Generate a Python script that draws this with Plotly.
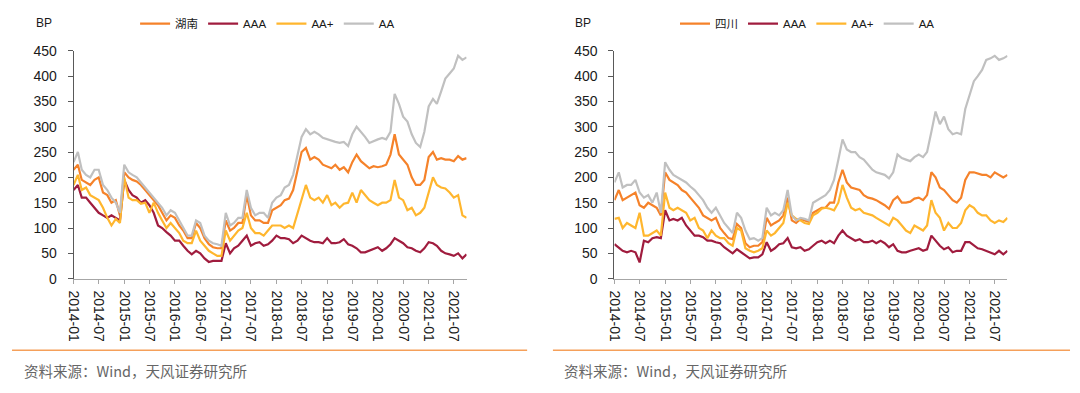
import pandas as pd
import plotly.graph_objects as go

dates = pd.date_range("2014-01-01", "2021-10-01", freq="MS")

hunan = [215,225,195,190,185,195,200,170,165,150,155,125,
         210,200,195,192,185,175,165,155,145,130,115,125,
         120,105,95,80,80,110,100,80,68,62,60,60,
         115,95,100,110,110,165,125,115,115,110,110,135,
         140,145,155,158,175,215,250,258,235,240,235,225,
         222,218,225,215,220,210,230,245,232,225,218,222,
         220,222,225,245,285,245,235,225,200,185,185,195,
         240,250,235,238,235,235,232,242,235,238]
hn_aaa = [175,185,160,160,150,140,130,125,120,125,120,115,
          195,175,165,160,150,155,145,130,105,100,92,85,
          75,75,65,55,48,55,50,40,33,35,35,35,
          70,50,60,65,75,85,65,70,72,65,68,75,
          85,80,80,78,70,75,85,80,75,72,72,70,
          80,70,70,72,78,68,65,60,52,52,55,58,
          62,55,60,68,80,75,70,62,60,55,52,60,
          72,70,65,55,50,48,45,50,40,48]
hn_aap = [185,205,175,180,165,160,155,140,120,105,118,110,
          200,160,155,155,148,150,130,150,130,115,100,110,
          100,90,75,70,70,95,75,65,55,50,45,45,
          95,75,85,95,100,130,100,90,90,85,95,105,
          105,105,100,105,100,130,155,185,160,155,160,150,
          165,145,150,140,148,150,170,150,175,165,155,150,
          145,150,150,155,195,160,155,135,140,125,130,140,
          170,200,185,180,178,170,160,165,125,120]
hn_aa = [230,250,215,205,200,215,215,185,175,160,150,130,
         225,210,205,200,190,180,170,160,150,140,125,135,
         130,115,100,85,85,115,110,85,75,70,68,65,
         130,105,110,120,120,175,140,125,130,130,120,150,
         160,165,180,185,205,245,280,295,285,290,285,278,
         275,272,270,268,270,262,285,300,290,280,268,272,
         275,278,275,290,365,345,320,310,285,268,260,290,
         340,355,345,370,395,405,415,440,432,437]

sichuan = [155,175,155,160,165,170,145,140,150,145,140,125,
           210,195,190,185,175,170,160,150,140,125,120,115,
           120,100,90,80,78,108,100,70,62,65,65,72,
           120,105,110,115,125,160,115,110,118,115,112,130,
           135,140,140,150,150,190,215,190,180,178,175,165,
           160,158,155,150,145,138,155,162,150,150,152,158,
           160,155,165,210,200,180,175,165,155,150,160,195,
           210,210,208,205,205,200,210,205,200,205]
sc_aaa = [68,62,55,52,55,52,32,75,72,80,82,80,
          135,115,118,115,120,105,95,85,85,82,75,75,
          72,70,62,55,50,58,52,45,40,42,42,48,
          72,55,60,68,70,80,62,60,62,55,58,65,
          72,75,70,75,70,85,95,85,80,75,78,72,
          72,75,70,75,70,62,68,55,52,52,55,58,
          60,55,58,85,75,65,58,62,52,55,55,72,
          72,65,60,58,55,52,48,55,48,55]
sc_aap = [118,120,100,110,105,100,130,85,85,90,95,85,
          170,140,135,140,135,130,115,120,100,95,80,95,
          85,80,80,70,65,100,95,60,55,52,55,60,
          95,85,90,100,110,150,125,118,115,110,108,125,
          130,138,140,138,135,150,185,160,140,135,138,130,
          128,125,120,115,110,105,120,115,105,95,90,105,
          100,95,105,155,130,120,95,110,100,100,110,135,
          145,140,130,125,125,115,110,115,112,120]
sc_aa = [190,210,180,185,185,195,170,160,165,150,170,130,
         230,215,205,200,195,190,182,175,165,155,140,130,
         140,125,110,100,90,130,120,95,78,80,75,80,
         140,125,130,125,135,175,125,115,120,118,115,150,
         155,160,165,175,195,235,275,255,250,250,240,235,
         225,215,210,207,205,198,210,245,238,235,232,240,
         245,240,250,290,330,305,320,295,285,288,285,335,
         365,390,400,412,432,435,440,432,435,440]

names_left = ["湖南", "AAA", "AA+", "AA"]
names_right = ["四川", "AAA", "AA+", "AA"]
colors = ["#F5822A", "#A01C3E", "#FFB62E", "#C0C0C0"]
source_text = "资料来源：Wind，天风证券研究所"

FONT = "Liberation Sans, Arial, Noto Sans CJK SC, sans-serif"
CJK = "Noto Sans CJK SC, sans-serif"

fig = go.Figure()
left_series = [hunan, hn_aaa, hn_aap, hn_aa]
right_series = [sichuan, sc_aaa, sc_aap, sc_aa]
for name, ys, c in zip(names_left, left_series, colors):
    fig.add_trace(go.Scatter(x=dates, y=ys, name=name, mode="lines",
                             line=dict(color=c, width=2.2), xaxis="x", yaxis="y",
                             legend="legend"))
for name, ys, c in zip(names_right, right_series, colors):
    fig.add_trace(go.Scatter(x=dates, y=ys, name=name, mode="lines",
                             line=dict(color=c, width=2.2), xaxis="x2", yaxis="y2",
                             legend="legend2"))

# page body has an 8px margin; figure is sized so the page fits the window
OFF = 8
W, H = 1080 - 2 * OFF, 393 - 2 * OFF
def px(x):
    return (x - OFF) / W
def py(y):
    return 1 - (y - OFF) / H

xcommon = dict(type="date", range=["2014-01-01", "2021-10-01"], dtick="M6",
               tick0="2014-01-01", tickformat="%Y-%m", tickangle=90,
               showgrid=False, zeroline=False, showline=True, linecolor="#A6A6A6",
               linewidth=1, ticks="outside", ticklen=4, tickcolor="#A6A6A6",
               ticklabelstandoff=4,
               tickfont=dict(size=14, color="#1A1A1A", family=FONT))
ycommon = dict(range=[0, 450], dtick=50, showgrid=False, zeroline=False,
               showline=True, linecolor="#595959", linewidth=1, ticks="outside",
               ticklen=5, tickcolor="#595959", ticklabelstandoff=8,
               tickfont=dict(size=14, color="#1A1A1A", family=FONT))

ydom = [py(282.3), py(44.3)]
fig.update_layout(
    width=W, height=H,
    margin=dict(l=0, r=0, t=0, b=0),
    paper_bgcolor="white", plot_bgcolor="white",
    font=dict(family=FONT, color="#1A1A1A"),
    xaxis=dict(xcommon, domain=[px(66), px(462)], anchor="y"),
    yaxis=dict(ycommon, domain=ydom, anchor="x"),
    xaxis2=dict(xcommon, domain=[px(611), px(1007)], anchor="y2"),
    yaxis2=dict(ycommon, domain=ydom, anchor="x2"),
    legend=dict(orientation="h", x=px(128), y=py(16), xanchor="left", yanchor="middle",
                font=dict(size=11.5, family=FONT, color="#1A1A1A"), itemwidth=30,
                bgcolor="rgba(0,0,0,0)"),
    legend2=dict(orientation="h", x=px(672), y=py(16), xanchor="left", yanchor="middle",
                 font=dict(size=11.5, family=FONT, color="#1A1A1A"), itemwidth=30,
                 bgcolor="rgba(0,0,0,0)"),
    showlegend=True,
)

for xs in (28, 571):
    fig.add_annotation(x=px(xs), y=py(15), xref="paper", yref="paper", text="BP",
                       showarrow=False, xanchor="left", yanchor="middle",
                       xshift=-2,
                       font=dict(size=12, family=FONT, color="#1A1A1A"))
for xs in (16, 560):
    fig.add_annotation(x=px(xs), y=py(378), xref="paper", yref="paper", text=source_text,
                       showarrow=False, xanchor="left", yanchor="middle", xshift=-2,
                       font=dict(size=14.5, family=CJK, color="#666666"))
for x0, x1 in ((4, 523), (549, 1070)):
    fig.add_shape(type="line", xref="paper", yref="paper", x0=px(x0), x1=px(x1),
                  y0=py(357), y1=py(357), line=dict(color="#F5A05A", width=1.5))

fig.write_html("out.html")
